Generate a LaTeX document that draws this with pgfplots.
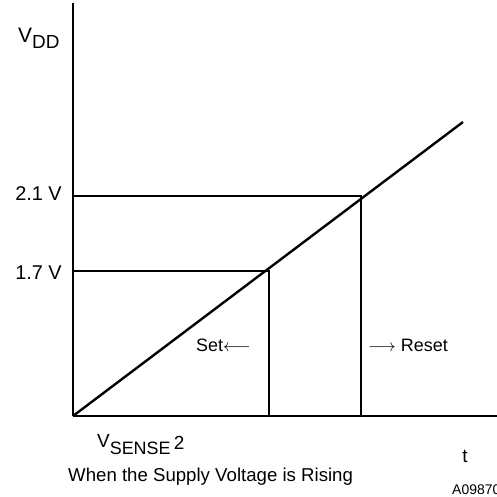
\documentclass[border=0pt]{standalone}
\usepackage{pgfplots}
\pgfplotsset{compat=1.18}
\usepackage{fontspec}
\setmainfont{Liberation Sans}
\begin{document}
\begin{tikzpicture}[x=1bp,y=1bp]
\path[use as bounding box] (-73bp,-81bp) rectangle (424bp,416bp);
\begin{axis}[
  at={(0,0)}, anchor=origin,
  scale only axis, width=424bp, height=413bp,
  xmin=0, xmax=424, ymin=0, ymax=413,
  axis x line=bottom, axis y line=left,
  axis line style={-, line width=1.3pt},
  xtick=\empty, ytick=\empty,
  clip=false,
  font=\fontsize{19}{21}\selectfont,
]
% threshold lines
\addplot[black, line width=1.1pt] coordinates {(0,220) (288,220) (288,0)};
\addplot[black, line width=1.1pt] coordinates {(0,145) (196,145) (196,0)};
% rising supply
\addplot[black, line width=2.4pt] coordinates {(0,0) (390,294)};
% labels
\node[anchor=base west, inner sep=0pt] at (axis cs:-55,373) {{\fontsize{21}{21}\selectfont V}\raisebox{-6bp}{\fontsize{19}{19}\selectfont DD}};
\node[anchor=base east, inner sep=0pt, font=\fontsize{20}{22}\selectfont] at (axis cs:-11,215) {2.1 V};
\node[anchor=base east, inner sep=0pt, font=\fontsize{20}{22}\selectfont] at (axis cs:-11,136) {1.7 V};
\node[anchor=base west, inner sep=0pt, font=\fontsize{18}{20}\selectfont] at (axis cs:123,65) {Set$\longleftarrow$};
\node[anchor=base west, inner sep=0pt, font=\fontsize{18}{20}\selectfont] at (axis cs:295,65) {$\longrightarrow$ Reset};
\node[anchor=base west, inner sep=0pt] at (axis cs:24,-31) {V\raisebox{-7bp}{\fontsize{18}{18}\selectfont SENSE}\,\raisebox{-2bp}{2}};
\node[anchor=base, inner sep=0pt] at (axis cs:392,-46) {t};
\node[anchor=base west, inner sep=0pt, font=\fontsize{18.7}{20}\selectfont] at (axis cs:-5,-65) {When the Supply Voltage is Rising};
\node[anchor=base west, inner sep=0pt, font=\fontsize{14}{16}\selectfont] at (axis cs:379,-78) {A09870};
\end{axis}
\end{tikzpicture}
\end{document}
